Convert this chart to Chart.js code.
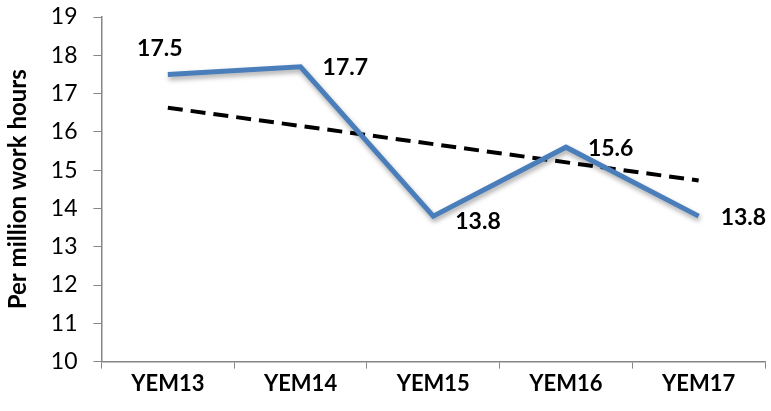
<!DOCTYPE html>
<html>
<head>
<meta charset="utf-8">
<script src="https://cdn.jsdelivr.net/npm/chart.js@4.4.0/dist/chart.umd.min.js"></script>
<style>
  html, body { margin: 0; padding: 0; background: #fff; }
  #wrap { width: 771px; height: 411px; }
</style>
</head>
<body>
<div id="wrap"><canvas id="lineChart"></canvas></div>
<script>
// dữ liệu
const categories = ['YEM13', 'YEM14', 'YEM15', 'YEM16', 'YEM17'];
const rateValues = [17.5, 17.7, 13.8, 15.6, 13.8];
// đường xu hướng: chỉ có hai đầu mút, phần giữa nối thẳng
const trendValues = [16.63, null, null, null, 14.73];
const yTicks = [10, 11, 12, 13, 14, 15, 16, 17, 18, 19];

const AXIS_GRAY = '#868686';
const FONT = 'Lato, "Liberation Sans", sans-serif';

// bóng mờ cho đường màu xanh
const shadowPlugin = {
    id: 'lineShadow',
    beforeDatasetDraw(chart, args) {
        if (args.index !== 0) return;
        const ctx = chart.ctx;
        ctx.save();
        ctx.shadowColor = 'rgba(0,0,0,0.35)';
        ctx.shadowBlur = 5;
        ctx.shadowOffsetX = 1;
        ctx.shadowOffsetY = 3;
    },
    afterDatasetDraw(chart, args) {
        if (args.index !== 0) return;
        chart.ctx.restore();
    }
};

// nhãn giá trị: điểm đầu đặt phía trên, các điểm còn lại bên phải
const valueLabelPlugin = {
    id: 'valueLabels',
    afterDatasetsDraw(chart) {
        const ctx = chart.ctx;
        const meta = chart.getDatasetMeta(0);
        ctx.save();
        ctx.font = 'bold 23px ' + FONT;
        ctx.fillStyle = '#000';
        ctx.textBaseline = 'middle';
        meta.data.forEach(function(pt, i) {
            const text = String(rateValues[i]);
            if (i === 0) {
                ctx.textAlign = 'center';
                ctx.fillText(text, pt.x - 8, pt.y - 26);
            } else {
                ctx.textAlign = 'left';
                ctx.fillText(text, pt.x + 22, pt.y + (i === 2 ? 5 : 1));
            }
        });
        ctx.restore();
    }
};

new Chart(document.getElementById('lineChart').getContext('2d'), {
    type: 'line',
    data: {
        labels: categories,
        datasets: [{
            label: 'Rate',
            data: rateValues,
            borderColor: '#4A7EBB',
            borderWidth: 5,
            pointRadius: 0,
            tension: 0,
            fill: false,
            borderJoinStyle: 'miter'
        }, {
            label: 'Trend',
            data: trendValues,
            borderColor: '#000',
            borderWidth: 4,
            borderDash: [15, 8],
            pointRadius: 0,
            spanGaps: true,
            fill: false
        }]
    },
    options: {
        responsive: true,
        maintainAspectRatio: false,
        animation: false,
        layout: { padding: { top: 17, right: 6, left: 4, bottom: 12 } },
        plugins: {
            legend: { display: false },
            tooltip: { enabled: false }
        },
        scales: {
            x: {
                offset: true,
                grid: {
                    offset: true,
                    drawOnChartArea: false,
                    drawTicks: true,
                    tickLength: 7,
                    color: AXIS_GRAY
                },
                border: { color: AXIS_GRAY, width: 1.5 },
                ticks: {
                    color: '#000',
                    padding: 2,
                    font: { family: FONT, size: 22, weight: 'bold' }
                }
            },
            y: {
                min: 10,
                max: 19,
                afterBuildTicks: function(axis) {
                    axis.ticks = yTicks.map(function(v) { return { value: v }; });
                },
                afterFit: function(axis) {
                    axis.paddingTop = 0;
                },
                grid: {
                    drawOnChartArea: false,
                    drawTicks: true,
                    tickLength: 8,
                    color: AXIS_GRAY
                },
                border: { color: AXIS_GRAY, width: 1.5 },
                ticks: {
                    color: '#000',
                    padding: 16,
                    font: { family: FONT, size: 23 }
                },
                title: {
                    display: true,
                    text: 'Per million work hours',
                    color: '#000',
                    padding: { top: 0, bottom: 2 },
                    font: { family: FONT, size: 24, weight: 'bold' }
                }
            }
        }
    },
    plugins: [shadowPlugin, valueLabelPlugin]
});
</script>
</body>
</html>
